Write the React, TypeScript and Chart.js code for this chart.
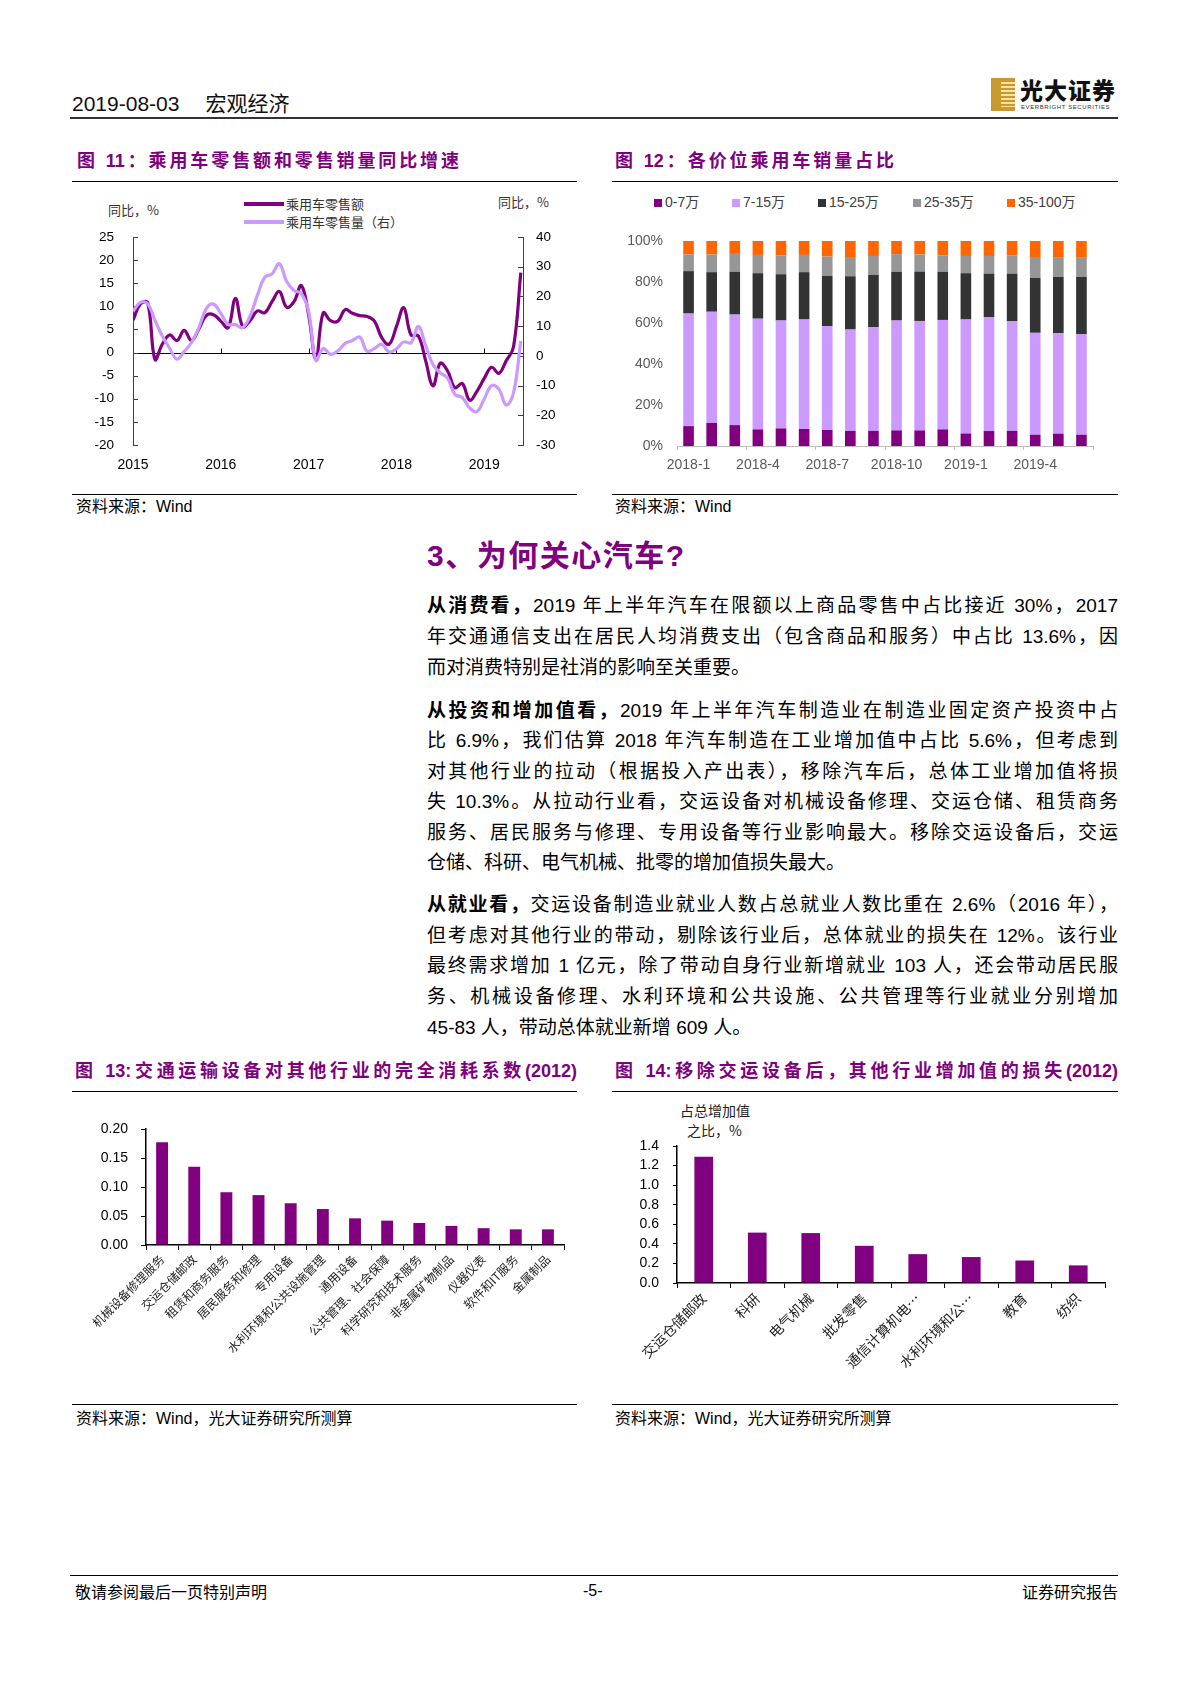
import React, { useEffect, useRef } from "react";
import { Chart, registerables } from "chart.js";
Chart.register(...registerables);

const SANS = '"Liberation Sans", Arial, "Noto Sans CJK SC", sans-serif';
const CJK = '"Noto Sans CJK SC", "Liberation Sans", sans-serif';
Chart.defaults.font.family = SANS;

// ---------- 图11 data (monthly, 2015-01 .. 2019-06) ----------
const fig11Years = ["2015", "2016", "2017", "2018", "2019"];
const retailSalesYoY = [
  7.0, 10.5, 10.8, -1.5, 1.8, 3.8, 2.6, 4.8, 2.6, 5.1, 8.0, 8.2,
  6.8, 5.4, 11.7, 5.6, 6.9, 9.0, 8.6, 11.0, 13.2, 9.8, 11.0, 14.5,
  8.2, -1.5, 8.6, 6.9, 6.8, 9.3, 8.5, 8.0, 7.8, 6.8, 3.2, 1.8,
  5.6, 9.7, 3.8, 3.6, -1.8, -7.2, -2.3, -4.0, -7.6, -6.7, -10.3, -8.4,
  -5.6, -3.2, -4.5, -1.8, 1.2, 17.3,
];
const retailVolumeYoY = [
  15.0, 18.0, 17.5, 12.0, 6.7, 2.6, -1.1, 1.5, 4.5, 9.5, 15.8, 17.4,
  14.3, 10.6, 10.5, 9.5, 13.4, 20.4, 26.4, 27.6, 31.0, 25.0, 22.0, 21.0,
  15.0, -1.5, 2.5, 0.5, 1.7, 4.2, 5.2, 6.3, 1.5, 2.5, 3.9, 1.3,
  2.4, 4.7, 4.4, 9.9, 3.5, -3.0, -5.7, -7.5, -13.0, -14.0, -17.5, -18.8,
  -14.5, -10.0, -11.2, -16.5, -12.5, 5.0,
];

// ---------- 图12 data ----------
const priceMonths = [
  "2018-1", "2018-2", "2018-3", "2018-4", "2018-5", "2018-6", "2018-7", "2018-8", "2018-9",
  "2018-10", "2018-11", "2018-12", "2019-1", "2019-2", "2019-3", "2019-4", "2019-5", "2019-6",
];
const share0to7 = [9.7, 11.3, 10.2, 8.1, 8.6, 8.3, 7.8, 7.4, 7.4, 7.6, 7.6, 8.1, 6.1, 7.3, 7.4, 5.5, 6.0, 5.5];
const share7to15 = [54.9, 54.2, 53.9, 54.0, 52.6, 53.4, 50.6, 49.4, 50.5, 53.6, 53.4, 53.4, 55.6, 55.6, 53.4, 49.7, 49.0, 49.0];
const share15to25 = [20.7, 19.3, 20.9, 22.2, 22.6, 23.1, 24.6, 26.0, 25.6, 23.8, 24.1, 23.5, 22.6, 21.2, 23.3, 26.8, 27.5, 28.0];
const share25to35 = [8.1, 8.6, 8.7, 8.9, 9.2, 8.4, 9.4, 9.4, 9.2, 8.6, 8.3, 7.9, 8.4, 8.6, 8.9, 10.2, 9.3, 9.3];
const share35to100 = [6.6, 6.6, 6.3, 6.8, 7.0, 6.8, 7.6, 7.8, 7.3, 6.4, 6.6, 7.1, 7.3, 7.3, 7.0, 7.8, 8.2, 8.2];
const priceBands = ["0-7万", "7-15万", "15-25万", "25-35万", "35-100万"];
const priceColors = ["#800080", "#CC99FF", "#333333", "#969696", "#FF6600"];

// ---------- 图13 data ----------
const equipIndustries = [
  "机械设备修理服务", "交运仓储邮政", "租赁和商务服务", "居民服务和修理", "专用设备",
  "水利环境和公共设施管理", "通用设备", "公共管理、社会保障", "科学研究和技术服务",
  "非金属矿物制品", "仪器仪表", "软件和IT服务", "金属制品",
];
const equipCoefficients = [0.177, 0.135, 0.091, 0.086, 0.072, 0.062, 0.046, 0.042, 0.038, 0.033, 0.029, 0.027, 0.027];

// ---------- 图14 data ----------
const lossIndustries = ["交运仓储邮政", "科研", "电气机械", "批发零售", "通信计算机电…", "水利环境和公…", "教育", "纺织"];
const lossValues = [1.29, 0.515, 0.51, 0.38, 0.295, 0.265, 0.23, 0.18];

const abs = (left: number, top: number, extra: React.CSSProperties = {}): React.CSSProperties => ({
  position: "absolute",
  left,
  top,
  whiteSpace: "nowrap",
  ...extra,
});

const fig11Decor = {
  id: "fig11Decor",
  beforeDatasetsDraw(chart: any) {
    const { ctx, chartArea, scales } = chart;
    const x = scales.x;
    const y = scales.y;
    const y2 = scales.y2;
    ctx.save();
    ctx.strokeStyle = "#000";
    ctx.lineWidth = 1;
    ctx.beginPath();
    const y0 = Math.round(y.getPixelForValue(0)) + 0.5;
    ctx.moveTo(chartArea.left, y0);
    ctx.lineTo(chartArea.right, y0);
    x.ticks.forEach((t: any) => {
      if (t.value > 0) {
        const px = Math.round(x.getPixelForValue(t.value)) + 0.5;
        ctx.moveTo(px, y0);
        ctx.lineTo(px, y0 - 5);
      }
    });
    ctx.stroke();
    ctx.strokeStyle = "#404040";
    ctx.beginPath();
    y.ticks.forEach((t: any) => {
      const py = Math.round(y.getPixelForValue(t.value)) + 0.5;
      ctx.moveTo(chartArea.left, py);
      ctx.lineTo(chartArea.left + 5, py);
    });
    y2.ticks.forEach((t: any) => {
      const py = Math.round(y2.getPixelForValue(t.value)) + 0.5;
      ctx.moveTo(chartArea.right, py);
      ctx.lineTo(chartArea.right - 5, py);
    });
    ctx.stroke();
    ctx.restore();
  },
};

const line = (left: number, top: number, width: number, h = 1, color = "#000"): React.CSSProperties => ({
  position: "absolute",
  left,
  top,
  width,
  height: h,
  background: color,
});

export default function App() {
  const c11 = useRef<HTMLCanvasElement>(null);
  const c12 = useRef<HTMLCanvasElement>(null);
  const c13 = useRef<HTMLCanvasElement>(null);
  const c14 = useRef<HTMLCanvasElement>(null);

  useEffect(() => {
    const charts: Chart[] = [];

    charts.push(
      new Chart(c11.current!, {
        type: "line",
        data: {
          datasets: [
            {
              label: "乘用车零售量（右）",
              data: retailVolumeYoY.map((v, i) => ({ x: i, y: v })),
              yAxisID: "y2",
              borderColor: "#CC99FF",
              borderWidth: 3.2,
              pointRadius: 0,
              tension: 0.4,
            },
            {
              label: "乘用车零售额",
              data: retailSalesYoY.map((v, i) => ({ x: i, y: v })),
              yAxisID: "y",
              borderColor: "#800080",
              borderWidth: 3.2,
              pointRadius: 0,
              tension: 0.4,
            },
          ],
        },
        options: {
          responsive: false,
          animation: false,
          layout: { padding: { top: 32, left: 0, right: 0, bottom: 0 } },
          plugins: { legend: { display: false }, tooltip: { enabled: false } },
          scales: {
            x: {
              type: "linear",
              min: 0,
              max: 53.3,
              afterFit: (s: any) => { s.height = 30; },
              grid: { display: false, drawTicks: false },
              border: { display: false },
              ticks: {
                stepSize: 12,
                includeBounds: false,
                autoSkip: false,
                maxRotation: 0,
                padding: 12,
                color: "#000",
                font: { size: 14 },
                callback: (v: any) => fig11Years[Math.round(Number(v) / 12)],
              },
            },
            y: {
              position: "left",
              min: -20,
              max: 25,
              afterFit: (s: any) => { s.width = 63; },
              grid: { display: false, drawTicks: false },
              border: { display: true, color: "#404040", width: 1 },
              ticks: { stepSize: 5, autoSkip: false, padding: 19, color: "#000", font: { size: 13.5 } },
            },
            y2: {
              position: "right",
              min: -30,
              max: 40,
              afterFit: (s: any) => { s.width = 47; },
              grid: { display: false, drawTicks: false },
              border: { display: true, color: "#404040", width: 1 },
              ticks: { stepSize: 10, autoSkip: false, padding: 13, color: "#000", font: { size: 13.5 } },
            },
          },
        },
        plugins: [fig11Decor],
      })
    );

    charts.push(
      new Chart(c12.current!, {
        type: "bar",
        data: {
          labels: priceMonths,
          datasets: [share0to7, share7to15, share15to25, share25to35, share35to100].map((d, i) => ({
            label: priceBands[i],
            data: d,
            backgroundColor: priceColors[i],
            borderWidth: 0,
            categoryPercentage: 1,
            barPercentage: 0.46,
          })),
        },
        options: {
          responsive: false,
          animation: false,
          layout: { padding: { top: 26, right: 25, left: 0, bottom: 0 } },
          plugins: { legend: { display: false }, tooltip: { enabled: false } },
          scales: {
            x: {
              stacked: true,
              afterFit: (s: any) => { s.height = 32; },
              grid: {
                display: true,
                drawOnChartArea: false,
                drawTicks: true,
                tickLength: 4,
                offset: true,
                color: (c: any) => (c.index === undefined || c.index % 3 === 0 ? "#BFBFBF" : "rgba(0,0,0,0)"),
              },
              border: { display: true, color: "#BFBFBF", width: 1 },
              ticks: {
                autoSkip: false,
                maxRotation: 0,
                minRotation: 0,
                padding: 7,
                color: "#595959",
                font: { size: 14 },
                callback: (_v: any, i: number) => (i % 3 === 0 ? priceMonths[i] : ""),
              },
            },
            y: {
              stacked: true,
              min: 0,
              max: 100,
              afterFit: (s: any) => { s.width = 65; },
              grid: { display: false, drawTicks: false },
              border: { display: false },
              ticks: {
                stepSize: 20,
                autoSkip: false,
                padding: 14,
                color: "#595959",
                font: { size: 14 },
                callback: (v: any) => `${v}%`,
              },
            },
          },
        },
      })
    );

    charts.push(
      new Chart(c13.current!, {
        type: "bar",
        data: {
          labels: equipIndustries,
          datasets: [
            {
              label: "完全消耗系数",
              data: equipCoefficients,
              backgroundColor: "#800080",
              categoryPercentage: 1,
              barPercentage: 0.37,
            },
          ],
        },
        options: {
          responsive: false,
          animation: false,
          layout: { padding: { top: 24, right: 6, left: 0, bottom: 0 } },
          plugins: { legend: { display: false }, tooltip: { enabled: false } },
          scales: {
            x: {
              afterFit: (s: any) => { s.height = 127; },
              grid: { display: true, drawOnChartArea: false, tickLength: 5, offset: true, color: "#000" },
              border: { display: true, color: "#000", width: 1.5 },
              ticks: {
                autoSkip: false,
                minRotation: 45,
                maxRotation: 45,
                padding: 2,
                color: "#222",
                font: { family: CJK, size: 12 },
              },
            },
            y: {
              min: 0,
              max: 0.2,
              afterFit: (s: any) => { s.width = 76; },
              grid: { display: true, drawOnChartArea: false, tickLength: 5, color: "#000" },
              border: { display: true, color: "#000", width: 1.5 },
              ticks: {
                stepSize: 0.05,
                autoSkip: false,
                padding: 13,
                color: "#000",
                font: { size: 14 },
                callback: (v: any) => Number(v).toFixed(2),
              },
            },
          },
        },
      })
    );

    charts.push(
      new Chart(c14.current!, {
        type: "bar",
        data: {
          labels: lossIndustries,
          datasets: [
            {
              label: "占总增加值之比",
              data: lossValues,
              backgroundColor: "#800080",
              categoryPercentage: 1,
              barPercentage: 0.35,
            },
          ],
        },
        options: {
          responsive: false,
          animation: false,
          layout: { padding: { top: 26, right: 13, left: 0, bottom: 0 } },
          plugins: { legend: { display: false }, tooltip: { enabled: false } },
          scales: {
            x: {
              afterFit: (s: any) => { s.height = 89; },
              grid: { display: true, drawOnChartArea: false, tickLength: 5, offset: true, color: "#000" },
              border: { display: true, color: "#000", width: 1.5 },
              ticks: {
                autoSkip: false,
                minRotation: 45,
                maxRotation: 45,
                padding: 2,
                color: "#222",
                font: { family: CJK, size: 14 },
              },
            },
            y: {
              min: 0,
              max: 1.4,
              afterFit: (s: any) => { s.width = 65; },
              grid: { display: true, drawOnChartArea: false, tickLength: 4, color: "#000" },
              border: { display: true, color: "#000", width: 1.5 },
              ticks: {
                stepSize: 0.2,
                autoSkip: false,
                padding: 14,
                color: "#000",
                font: { size: 14 },
                callback: (v: any) => Number(v).toFixed(1),
              },
            },
          },
        },
      })
    );

    return () => charts.forEach((c) => c.destroy());
  }, []);

  const titleStyle = (left: number, top: number, width: number): React.CSSProperties =>
    abs(left, top, {
      width,
      fontFamily: SANS,
      fontWeight: 700,
      fontSize: 18,
      lineHeight: "22px",
      color: "#7F007F",
      textAlign: "justify",
      textAlignLast: "justify",
    });

  const bodyLine = (text: React.ReactNode, top: number, last = false) => (
    <div
      style={abs(427, top, {
        width: 691,
        fontFamily: SANS,
        fontSize: 19,
        lineHeight: "26px",
        color: "#000",
        textAlign: last ? "left" : "justify",
        textAlignLast: last ? "left" : "justify",
        whiteSpace: "normal",
        height: 26,
        overflow: "visible",
      })}
    >
      {text}
    </div>
  );

  const B = (t: string) => <b style={{ fontWeight: 700 }}>{t}</b>;

  const src = (left: number, top: number, text: string) => (
    <div style={abs(left, top, { fontFamily: SANS, fontSize: 16, lineHeight: "20px", color: "#000" })}>{text}</div>
  );

  return (
    <div style={{ position: "absolute", left: 0, top: 0, width: 1190, height: 1683, background: "#fff", overflow: "hidden" }}>
      {/* header */}
      <div style={abs(72, 92, { fontFamily: SANS, fontSize: 21, lineHeight: "24px", color: "#111" })}>
        2019-08-03<span style={{ display: "inline-block", width: 26 }} />宏观经济
      </div>
      <div style={line(70, 117, 1048, 2, "#333")} />
      {/* logo */}
      <div style={abs(991, 78, { width: 24, height: 33, background: "#C9992E" })}>
        <div
          style={{
            position: "absolute",
            left: 10,
            top: 4,
            width: 14,
            height: 25,
            background: "repeating-linear-gradient(180deg, #F3E3A8 0px, #F3E3A8 2px, #C9992E 2px, #C9992E 4px)",
          }}
        />
      </div>
      <div style={abs(1020, 76, { fontFamily: CJK, fontWeight: 900, fontSize: 23, lineHeight: "26px", color: "#111", letterSpacing: 1 })}>
        光大证券
      </div>
      <div style={abs(1021, 104, { fontFamily: SANS, fontSize: 6, lineHeight: "7px", color: "#333", letterSpacing: 0.6 })}>
        EVERBRIGHT SECURITIES
      </div>

      {/* figure titles */}
      <div style={titleStyle(77, 150, 382)}>图 11：乘用车零售额和零售销量同比增速</div>
      <div style={titleStyle(615, 150, 279)}>图 12：各价位乘用车销量占比</div>
      <div style={line(72, 181, 505)} />
      <div style={line(612, 181, 506)} />

      {/* fig 11 texts */}
      <div style={abs(108, 202, { fontFamily: CJK, fontSize: 13, lineHeight: "16px", color: "#333" })}>同比，%</div>
      <div style={abs(498, 194, { fontFamily: CJK, fontSize: 13, lineHeight: "16px", color: "#333" })}>同比，%</div>
      <div style={line(244, 202, 40, 4, "#800080")} />
      <div style={abs(286, 196, { fontFamily: CJK, fontSize: 13, lineHeight: "16px", color: "#333" })}>乘用车零售额</div>
      <div style={line(244, 220, 40, 4, "#CC99FF")} />
      <div style={abs(286, 214, { fontFamily: CJK, fontSize: 13, lineHeight: "16px", color: "#333" })}>乘用车零售量（右）</div>
      <canvas ref={c11} width={500} height={270} style={abs(70, 205, { width: 500, height: 270 })} />

      {/* fig 12 legend */}
      {priceBands.map((b, i) => (
        <React.Fragment key={b}>
          <div style={line([654, 732, 818, 913, 1007][i], 199, 8, 8, priceColors[i])} />
          <div style={abs([665, 743, 829, 924, 1018][i], 194, { fontFamily: SANS, fontSize: 14, lineHeight: "17px", color: "#404040" })}>
            {b}
          </div>
        </React.Fragment>
      ))}
      <canvas ref={c12} width={506} height={263} style={abs(612, 215, { width: 506, height: 263 })} />

      <div style={line(72, 494, 505)} />
      <div style={line(612, 494, 506)} />
      {src(76, 497, "资料来源：Wind")}
      {src(615, 497, "资料来源：Wind")}

      {/* section heading */}
      <div style={abs(427, 536, { fontFamily: SANS, fontWeight: 700, fontSize: 30, lineHeight: "40px", color: "#800080", letterSpacing: 1.5 })}>
        3、为何关心汽车?
      </div>

      {bodyLine(<>{B("从消费看，")}2019 年上半年汽车在限额以上商品零售中占比接近 30%，2017</>, 593)}
      {bodyLine(<>年交通通信支出在居民人均消费支出（包含商品和服务）中占比 13.6%，因</>, 624)}
      {bodyLine(<>而对消费特别是社消的影响至关重要。</>, 655, true)}

      {bodyLine(<>{B("从投资和增加值看，")}2019 年上半年汽车制造业在制造业固定资产投资中占</>, 698)}
      {bodyLine(<>比 6.9%，我们估算 2018 年汽车制造在工业增加值中占比 5.6%，但考虑到</>, 728)}
      {bodyLine(<>对其他行业的拉动（根据投入产出表），移除汽车后，总体工业增加值将损</>, 759)}
      {bodyLine(<>失 10.3%。从拉动行业看，交运设备对机械设备修理、交运仓储、租赁商务</>, 789)}
      {bodyLine(<>服务、居民服务与修理、专用设备等行业影响最大。移除交运设备后，交运</>, 820)}
      {bodyLine(<>仓储、科研、电气机械、批零的增加值损失最大。</>, 850, true)}

      {bodyLine(<>{B("从就业看，")}交运设备制造业就业人数占总就业人数比重在 2.6%（2016 年），</>, 892)}
      {bodyLine(<>但考虑对其他行业的带动，剔除该行业后，总体就业的损失在 12%。该行业</>, 923)}
      {bodyLine(<>最终需求增加 1 亿元，除了带动自身行业新增就业 103 人，还会带动居民服</>, 953)}
      {bodyLine(<>务、机械设备修理、水利环境和公共设施、公共管理等行业就业分别增加</>, 984)}
      {bodyLine(<>45-83 人，带动总体就业新增 609 人。</>, 1015, true)}

      {/* fig 13 / 14 */}
      <div style={titleStyle(75, 1060, 502)}>图 13:交通运输设备对其他行业的完全消耗系数(2012)</div>
      <div style={titleStyle(615, 1060, 503)}>图 14:移除交运设备后，其他行业增加值的损失(2012)</div>
      <div style={line(72, 1091, 505)} />
      <div style={line(612, 1091, 506)} />
      <canvas ref={c13} width={500} height={267} style={abs(70, 1105, { width: 500, height: 267 })} />
      <div style={abs(680, 1101, { fontFamily: CJK, fontSize: 14, lineHeight: "18px", color: "#222" })}>占总增加值</div>
      <div style={abs(687, 1121, { fontFamily: CJK, fontSize: 14, lineHeight: "18px", color: "#222" })}>之比，%</div>
      <canvas ref={c14} width={506} height={252} style={abs(612, 1120, { width: 506, height: 252 })} />
      <div style={line(72, 1404, 505)} />
      <div style={line(612, 1404, 506)} />
      {src(76, 1409, "资料来源：Wind，光大证券研究所测算")}
      {src(615, 1409, "资料来源：Wind，光大证券研究所测算")}

      {/* footer */}
      <div style={line(70, 1575, 1048, 1, "#000")} />
      <div style={abs(75, 1581, { fontFamily: CJK, fontSize: 16, lineHeight: "20px", color: "#000" })}>敬请参阅最后一页特别声明</div>
      <div style={abs(583, 1581, { fontFamily: SANS, fontSize: 16, lineHeight: "20px", color: "#000" })}>-5-</div>
      <div style={abs(1022, 1581, { fontFamily: CJK, fontSize: 16, lineHeight: "20px", color: "#000" })}>证券研究报告</div>
    </div>
  );
}
